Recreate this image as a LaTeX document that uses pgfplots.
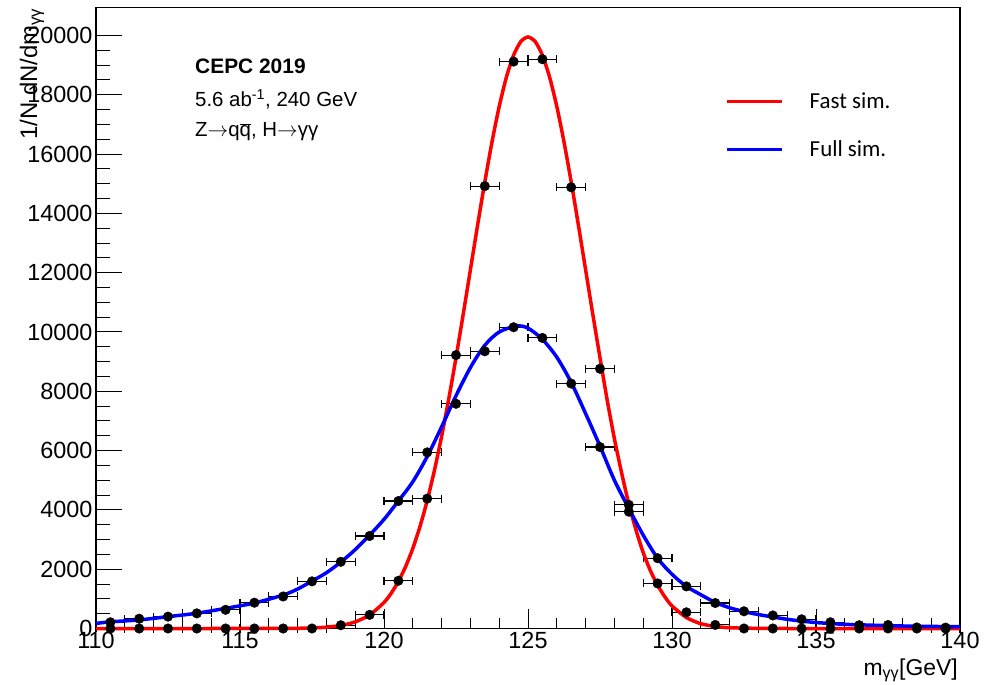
\documentclass[border=0pt]{standalone}
\usepackage{pgfplots}
\pgfplotsset{compat=1.18}
\usepackage{fontspec}
\setmainfont{Liberation Sans}
\newfontfamily\carlito{Carlito}
\begin{document}
\begin{tikzpicture}
\useasboundingbox (0,0) rectangle (994bp,685bp);
\begin{axis}[
 at={(96bp,56.5bp)}, anchor=south west,
 scale only axis, width=864bp, height=621bp,
 xmin=110, xmax=140, ymin=0, ymax=20944,
 xtick={110,115,...,140}, minor x tick num=4,
 ytick={0,2000,...,20000}, minor y tick num=3,
 tick pos=left, tick align=inside,
 axis line style={line width=1.3bp},
 xtick style={line width=1bp, black, /pgfplots/major tick length=19bp, /pgfplots/minor tick length=10bp},
 ytick style={line width=1bp, black, /pgfplots/major tick length=26bp, /pgfplots/minor tick length=14bp},
 scaled y ticks=false,
 y tick label style={/pgf/number format/1000 sep={}},
 tick label style={font=\fontsize{23.5}{28}\selectfont},
 /pgf/number format/assume math mode=true,
 clip=false,
 legend style={at={(0.728,0.8644)}, anchor=north west, draw=none, fill=none, inner sep=0pt, outer sep=0pt, row sep=27.6bp, font=\carlito\fontsize{23}{27}\selectfont, nodes={inner sep=0pt}},
 legend cell align=left,
 legend image code/.code={\draw[#1] (0bp,0bp) -- (55bp,0bp); \path[draw=none, fill=none] (0bp,-10bp) rectangle (83bp,10bp);},
]
% Fast sim. points
\addplot[forget plot, only marks, mark=*, mark size=4.8bp, black,
  error bars/.cd, x dir=both, x fixed=0.5, error mark=|, error bar style={line width=1.1bp, black}, error mark options={black, line width=1.1bp, mark size=4bp}]
 coordinates {
 (110.5,0) (111.5,0) (112.5,0) (113.5,0) (114.5,0) (115.5,0) (116.5,0) (117.5,0)
 (118.5,110) (119.5,460) (120.5,1610) (121.5,4380) (122.5,9220) (123.5,14920)
 (124.5,19120) (125.5,19200) (126.5,14880) (127.5,8760) (128.5,4170) (129.5,1520)
 (130.5,545) (131.5,120) (132.5,0) (133.5,0) (134.5,0) (135.5,0) (136.5,0)
 (137.5,0) (138.5,0) (139.5,0)
 };
% Full sim. points
\addplot[forget plot, only marks, mark=*, mark size=4.8bp, black,
  error bars/.cd, x dir=both, x fixed=0.5, error mark=|, error bar style={line width=1.1bp, black}, error mark options={black, line width=1.1bp, mark size=4bp}]
 coordinates {
 (110.5,210) (111.5,330) (112.5,400) (113.5,510) (114.5,630) (115.5,870)
 (116.5,1080) (117.5,1590) (118.5,2250) (119.5,3120) (120.5,4300) (121.5,5940)
 (122.5,7580) (123.5,9350) (124.5,10160) (125.5,9800) (126.5,8260) (127.5,6120)
 (128.5,3940) (129.5,2370) (130.5,1420) (131.5,860) (132.5,580) (133.5,440)
 (134.5,310) (135.5,210) (136.5,110) (137.5,118) (138.5,35) (139.5,30)
 };
% Fast sim. fit
\addplot[red, line width=3.5bp, smooth, tension=0.4] coordinates {
 (110,0) (114,0) (116,1) (117,7) (117.5,18) (118,44) (118.5,101) (119,222)
 (119.5,455) (120,876) (120.25,1189) (120.5,1588) (120.75,2087) (121,2700)
 (121.25,3440) (121.5,4316) (121.75,5329) (122,6477) (122.25,7752) (122.5,9133)
 (122.75,10596) (123,12100) (123.25,13604) (123.5,15058) (123.75,16411)
 (124,17606) (124.25,18595) (124.5,19335) (124.75,19795) (125,19950)
 (125.25,19795) (125.5,19335) (125.75,18595) (126,17606) (126.25,16411)
 (126.5,15058) (126.75,13604) (127,12100) (127.25,10596) (127.5,9133)
 (127.75,7700) (128,6400) (128.25,5250) (128.5,4200) (128.75,3320) (129,2560)
 (129.25,1950) (129.5,1460) (129.75,1070) (130,760) (130.5,370) (131,160)
 (131.5,70) (132,25) (133,5) (134,0) (140,0)
};
\addlegendentry{Fast sim.}
% Full sim. fit
\addplot[blue, line width=3.5bp, smooth, tension=0.5] coordinates {
 (110,170) (110.5,225) (111.5,290) (112.5,400) (113.5,515) (114.5,680)
 (115.5,860) (116.5,1130) (117,1330) (117.5,1600) (118,1880) (118.5,2240)
 (119,2660) (119.5,3150) (120,3680) (120.5,4300) (121,4950) (121.5,5800)
 (122,6800) (122.5,7850) (123,8800) (123.5,9550) (124,10000) (124.6,10200)
 (125,10130) (125.5,9750) (126,9150) (126.5,8300) (127,7250) (127.5,6150)
 (128,5000) (128.5,4050) (129,3150) (129.5,2370) (130,1830) (130.5,1420)
 (131,1140) (131.5,880) (132,700) (132.5,570) (133,470) (133.5,390) (134,310)
 (134.5,250) (135,200) (135.5,170) (136,140) (137,110) (138,85) (139,70) (140,60)
};
\addlegendentry{Full sim.}
\end{axis}
\node[anchor=base west, inner sep=0pt] at (195bp,611bp) {\fontsize{21}{25}\selectfont\bfseries CEPC 2019};
\node[anchor=base west, inner sep=0pt] at (195bp,578bp) {\fontsize{20.5}{25}\selectfont 5.6 ab\textsuperscript{-1}, 240 GeV};
\node[anchor=base west, inner sep=0pt] at (195bp,548bp) {\fontsize{20.5}{25}\selectfont Z$\rightarrow$q$\overline{\mbox{q}}$, H$\rightarrow$γγ};
\node[rotate=90, anchor=base east, inner sep=0pt] at (37bp,677bp) {\fontsize{24}{28}\selectfont 1/N dN/dm\textsubscript{γγ}};
\node[anchor=base east, inner sep=0pt] at (958bp,10bp) {\fontsize{23}{27}\selectfont m\textsubscript{γγ}[GeV]};
\end{tikzpicture}
\end{document}
